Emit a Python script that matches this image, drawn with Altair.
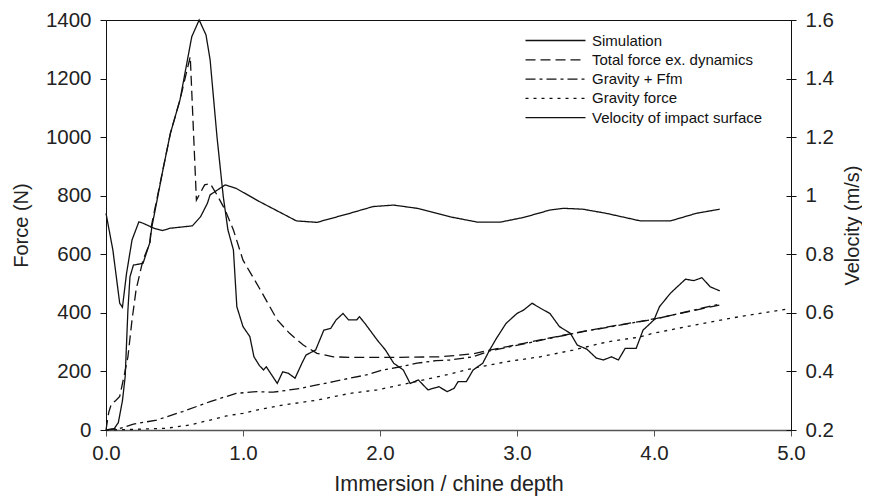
import altair as alt
import pandas as pd

# ---------------- data ----------------
series_names = [
    "Simulation",
    "Total force ex. dynamics",
    "Gravity + Ffm",
    "Gravity force",
    "Velocity of impact surface",
]

sim_x = [0.00, 0.06, 0.09, 0.12, 0.14, 0.16, 0.175, 0.20, 0.27, 0.32, 0.335, 0.42, 0.47, 0.54,
         0.626, 0.68, 0.73, 0.76, 0.81, 0.856, 0.89, 0.93, 0.955, 1.00, 1.05, 1.08, 1.12, 1.15,
         1.17, 1.25, 1.29, 1.33, 1.38, 1.43, 1.46, 1.53, 1.59, 1.64, 1.68, 1.73, 1.77, 1.83,
         1.85, 1.89, 1.98, 2.04, 2.10, 2.17, 2.22, 2.28, 2.35, 2.43, 2.49, 2.54, 2.57, 2.63,
         2.68, 2.75, 2.80, 2.85, 2.92, 3.00, 3.05, 3.11, 3.17, 3.24, 3.31, 3.39, 3.44, 3.51,
         3.58, 3.63, 3.69, 3.74, 3.79, 3.87, 3.92, 4.00, 4.04, 4.12, 4.17, 4.23, 4.29, 4.35,
         4.41, 4.48]
sim_f = [0, 5, 25, 100, 182, 410, 523, 563, 569, 640, 694, 899, 1013, 1127,
         1343, 1400, 1349, 1264, 1002, 797, 683, 615, 421, 353, 319, 250, 220, 205,
         216, 159, 199, 194, 177, 228, 256, 273, 341, 347, 376, 398, 376, 376,
         387, 364, 307, 273, 228, 205, 159, 171, 137, 148, 131, 142, 165, 165,
         205, 228, 273, 313, 364, 398, 410, 433, 416, 398, 353, 330, 290, 276,
         245, 239, 250, 239, 279, 279, 341, 376, 421, 467, 489, 515, 510, 520,
         489, 475]

tot_x = [0.00, 0.02, 0.04, 0.07, 0.10, 0.13, 0.16, 0.19, 0.22, 0.27, 0.32, 0.33, 0.42, 0.47,
         0.54, 0.615, 0.66, 0.72, 0.76, 0.81, 0.87, 0.93, 1.00, 1.05, 1.12, 1.25, 1.34, 1.44,
         1.54, 1.66, 1.78, 2.10, 2.44, 2.68, 2.80, 3.05, 3.29, 3.53, 3.75, 4.02, 4.48]
tot_f = [0, 60, 90, 100, 115, 180, 250, 376, 480, 580, 638, 694, 899, 1013,
         1127, 1275, 785, 837, 842, 803, 751, 683, 580, 540, 484, 376, 330, 290,
         262, 250, 248, 248, 250, 260, 273, 296, 319, 341, 359, 381, 427]

gff_x = [0.00, 0.10, 0.20, 0.37, 0.56, 0.76, 0.95, 1.10, 1.22, 1.42, 1.54, 1.66, 1.78, 1.90,
         2.02, 2.15, 2.27, 2.41, 2.51, 2.68, 2.80, 3.05, 3.29, 3.53, 3.75, 4.02, 4.48]
gff_f = [0, 5, 20, 34, 63, 97, 125, 131, 129, 142, 154, 165, 177, 188,
         205, 216, 228, 237, 239, 250, 270, 294, 318, 340, 358, 380, 430]

grav_x = [0.00, 0.20, 0.44, 0.61, 0.76, 0.88, 1.00, 1.10, 1.29, 1.54, 1.78, 1.98, 2.15, 2.32,
          2.51, 2.68, 2.92, 3.17, 3.41, 3.65, 3.90, 3.99, 4.36, 4.60, 4.97]
grav_f = [0, 2, 6, 17, 34, 48, 57, 68, 85, 102, 125, 137, 154, 171,
          191, 211, 233, 250, 273, 300, 318, 330, 364, 385, 413]

vel_x = [0.00, 0.05, 0.10, 0.12, 0.15, 0.19, 0.24, 0.27, 0.35, 0.41, 0.47, 0.63, 0.69, 0.74,
         0.76, 0.87, 0.95, 1.12, 1.39, 1.54, 1.78, 1.95, 2.10, 2.27, 2.51, 2.71, 2.88, 3.05,
         3.24, 3.34, 3.48, 3.65, 3.90, 4.12, 4.31, 4.48]
vel_v = [0.94, 0.815, 0.633, 0.619, 0.735, 0.849, 0.911, 0.906, 0.889, 0.881, 0.889, 0.897, 0.928, 0.974,
         1.003, 1.037, 1.025, 0.98, 0.914, 0.909, 0.940, 0.963, 0.968, 0.957, 0.928, 0.910, 0.910, 0.926,
         0.951, 0.957, 0.954, 0.940, 0.914, 0.914, 0.940, 0.954]

x_ticks = [0, 1, 2, 3, 4, 5]
force_ticks = [0, 200, 400, 600, 800, 1000, 1200, 1400]
vel_ticks = [0.2, 0.4, 0.6, 0.8, 1.0, 1.2, 1.4, 1.6]
dash_patterns = [[1, 0], [10, 5], [10, 4, 3, 4], [3, 5], [1, 0]]

# ---------------- build tables ----------------
rows = []
for name, xs, ys in [(series_names[0], sim_x, sim_f), (series_names[1], tot_x, tot_f),
                     (series_names[2], gff_x, gff_f), (series_names[3], grav_x, grav_f)]:
    for i, (a, b) in enumerate(zip(xs, ys)):
        rows.append({"series": name, "x": a, "F": b, "i": i})
df_force = pd.DataFrame(rows)
df_vel = pd.DataFrame({"x": vel_x, "v": vel_v, "i": list(range(len(vel_x))),
                       "series": [series_names[4]] * len(vel_x)})

FONT = "Liberation Sans"
INK = "#111111"

x_enc = alt.X("x:Q", scale=alt.Scale(domain=[0, 5], nice=False),
              axis=alt.Axis(values=x_ticks, format=".1f", tickSize=6, labelPadding=7,
                            labelFlush=False, labelOverlap=False, grid=False,
                            domainColor="#555555", tickColor="#555555", domainWidth=1.5,
                            titlePadding=10, titleFontSize=21.5),
              title="Immersion / chine depth")

dash_scale = alt.Scale(domain=series_names, range=dash_patterns)

force_layer = alt.Chart(df_force).mark_line(strokeWidth=1.3, color=INK).encode(
    x=x_enc,
    y=alt.Y("F:Q", scale=alt.Scale(domain=[0, 1400], nice=False),
            axis=alt.Axis(orient="left", values=force_ticks, format="d", tickSize=6,
                          labelPadding=9, grid=False, titlePadding=14, titleFontSize=20),
            title="Force (N)"),
    strokeDash=alt.StrokeDash(
        "series:N", scale=dash_scale,
        legend=alt.Legend(title=None, orient="none", legendX=441, legendY=12,
                          symbolType="M-4,0H4", symbolSize=225, symbolStrokeWidth=1.3,
                          symbolStrokeColor=INK, symbolFillColor="transparent",
                          labelFontSize=15, labelFont=FONT, labelColor=INK,
                          labelOffset=28, rowPadding=2.3, padding=0, labelLimit=400)),
    order=alt.Order("i:Q"),
)

vel_layer = alt.Chart(df_vel).mark_line(strokeWidth=1.3, color=INK).encode(
    x=x_enc,
    y=alt.Y("v:Q", scale=alt.Scale(domain=[0.2, 1.6], nice=False),
            axis=alt.Axis(orient="right", values=vel_ticks, format="~g", tickSize=5,
                          labelPadding=9, grid=False, titleAngle=270, titleBaseline="top",
                          titlePadding=9, titleFontSize=20),
            title="Velocity (m/s)"),
    strokeDash=alt.StrokeDash("series:N", scale=dash_scale),
    order=alt.Order("i:Q"),
)

inner_tick_layer = alt.Chart(df_vel).mark_line(strokeOpacity=0).encode(
    x=x_enc,
    y=alt.Y("v:Q", scale=alt.Scale(domain=[0.2, 1.6], nice=False),
            axis=alt.Axis(orient="right", values=vel_ticks, offset=-5, tickSize=5,
                          labels=False, domain=False, grid=False, title=None)),
)

chart = alt.layer(force_layer, vel_layer, inner_tick_layer).resolve_scale(
    y="independent"
).properties(
    width=685, height=410,
    autosize=alt.AutoSizeParams(type="none"),
    padding={"left": 98, "top": 12, "right": 71, "bottom": 66},
    background="white",
).configure_view(
    stroke=INK, strokeWidth=1
).configure_axis(
    labelFont=FONT, titleFont=FONT, labelFontSize=20.5, titleFontSize=20,
    labelColor="#222222", titleColor="#222222", titleFontWeight="normal",
    domainColor=INK, tickColor=INK,
)

chart.save("out.html", embed_options={"renderer": "svg", "actions": False})
